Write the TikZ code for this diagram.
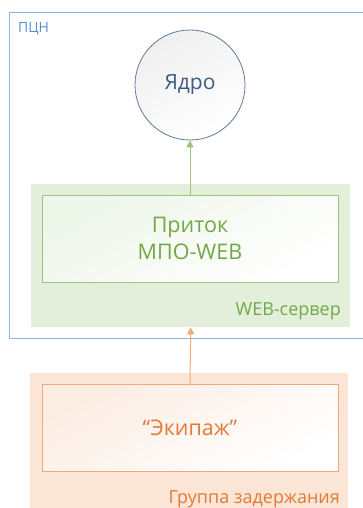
\documentclass[tikz,border=0pt]{standalone}
\usepackage{fontspec}
\setmainfont{Open Sans}
\usetikzlibrary{positioning, arrows.meta}
\definecolor{pcnblue}{HTML}{8DB4E2}
\definecolor{pcntext}{HTML}{5B8FCB}
\definecolor{coreline}{HTML}{5F7A9B}
\definecolor{coretext}{HTML}{3E5C82}
\definecolor{webfill}{HTML}{E3EFDA}
\definecolor{webline}{HTML}{9DC47E}
\definecolor{webtext}{HTML}{72A845}
\definecolor{grpfill}{HTML}{FBE5D7}
\definecolor{grpline}{HTML}{F2A874}
\definecolor{grptext}{HTML}{E27A35}
\tikzset{
    >={Triangle[length=7pt,width=7pt]}, % filled arrow heads
    area/.style={inner sep=0pt, anchor=north west}, % big coloured areas
    box/.style={draw, line width=1pt, minimum width=296pt, minimum height=87pt,
        align=center, font=\fontsize{21.5}{27}\selectfont}, % boxes inside the areas
    tag/.style={inner sep=0pt, font=\fontsize{18}{21}\selectfont}, % area names
}
\begin{document}
\begin{tikzpicture}[x=1pt, y=-1pt]
    \useasboundingbox (0,0) rectangle (363,508);
    % outer frame
    \node[area, draw=pcnblue, line width=0.9pt, minimum width=360pt, minimum height=326pt] (pcn) at (9,12) {};
    \node[tag, text=pcntext, anchor=west, font=\fontsize{14}{17}\selectfont] (pcnname) at (18,29) {ПЦН};
    % core
    \node[circle, draw=coreline, line width=0.8pt, minimum size=110pt, inner sep=0pt,
        top color=gray!12, bottom color=white, shading angle=30,
        text=coretext, font=\fontsize{21}{25}\selectfont] (core) at (190,85) {Ядро};
    % web server
    \node[area, fill=webfill, minimum width=319pt, minimum height=143pt] (web) at (31,184) {};
    \node[box, draw=webline, text=webtext, top color=webfill!60, bottom color=white, shading angle=30] (pritok) at (190,238.5) {Приток\\МПО-WEB};
    \node[tag, text=webtext, anchor=east] (webname) at (341,311) {WEB-сервер};
    % group
    \node[area, fill=grpfill, minimum width=318pt, minimum height=150pt] (grp) at (30,373) {};
    \node[box, draw=grpline, text=grptext, top color=grpfill!70, bottom color=white, shading angle=30] (crew) at (190,427.5) {“Экипаж”};
    \node[tag, text=grptext, anchor=east] (grpname) at (340,499) {Группа задержания};
    % links
    \draw[->, webline, line width=1pt] (pritok.north) -- (core.south);
    \draw[->, grpline, line width=1pt] (crew.north) -- (web.south);
\end{tikzpicture}
\end{document}
